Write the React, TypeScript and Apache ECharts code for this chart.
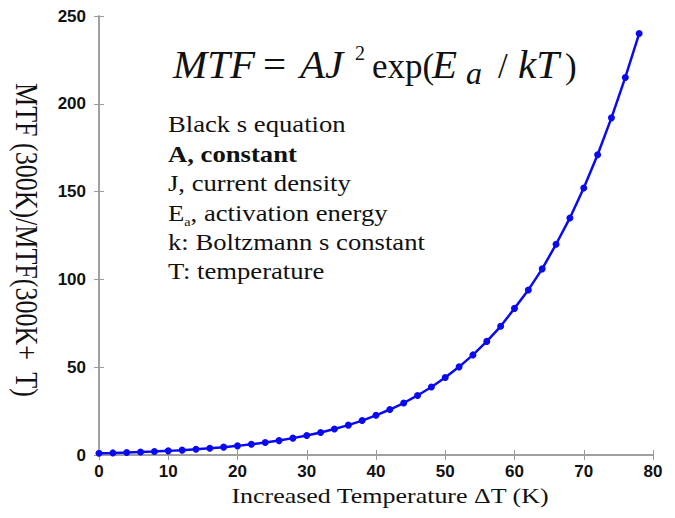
import React, { useEffect, useRef } from "react";
import * as echarts from "echarts";

const deltaT = [0, 2, 4, 6, 8, 10, 12, 14, 16, 18, 20, 22, 24, 26, 28, 30, 32, 34, 36, 38, 40, 42, 44, 46, 48, 50, 52, 54, 56, 58, 60, 62, 64, 66, 68, 70, 72, 74, 76, 78];
const mtfRatio = [1.0, 1.19, 1.42, 1.68, 1.98, 2.35, 2.77, 3.26, 3.82, 4.47, 5.2, 6.1, 7.1, 8.2, 9.6, 11.1, 12.8, 14.8, 17.0, 19.6, 22.6, 25.9, 29.6, 33.9, 38.7, 44.1, 50.2, 57.0, 64.7, 73.3, 83.5, 94, 106, 120, 135, 152, 171, 192, 215, 240];
const xTitle = "Increased Temperature \u0394T (K)";
const yTitle = "MTF (300K)/MTF(300K+  T)";
const noteLines = [
  "{r|Black s equation}",
  "{b|A, constant}",
  "{r|J, current density}",
  "{r|E}{sub|a}{r|, activation energy}",
  "{r|k: Boltzmann s constant}",
  "{r|T: temperature}",
];

const SERIF = "'Liberation Serif', 'Times New Roman', serif";
const SANS = "'Liberation Sans', Arial, sans-serif";
const AXIS_GRAY = "#9a9a9a";
const INK = "#111";
const SX = 1.18;

// one piece of the typeset formula; y is the baseline
function eqPiece(text: string, x: number, baseline: number, size: number, italic: boolean) {
  return {
    type: "text",
    x,
    y: baseline - 0.3375 * size,
    style: {
      text,
      fontSize: size,
      fontFamily: SERIF,
      fontStyle: italic ? "italic" : "normal",
      fill: INK,
      align: "left",
      verticalAlign: "middle",
      textAlign: "left",
      textVerticalAlign: "middle",
    },
  };
}

export default function App() {
  const ref = useRef<HTMLDivElement>(null);
  useEffect(() => {
    if (!ref.current) return;
    const chart = echarts.init(ref.current, null, { renderer: "svg" });
    const axisCommon = {
      type: "value" as const,
      axisLine: { show: true, lineStyle: { color: AXIS_GRAY, width: 1.5 } },
      axisTick: { show: true, inside: true, length: 5, lineStyle: { color: AXIS_GRAY, width: 1 } },
      splitLine: { show: false },
    };
    const labelStyle = { color: INK, fontFamily: SANS, fontWeight: "bold" as const, fontSize: 17 };
    const BL = 78;
    chart.setOption({
      animation: false,
      backgroundColor: "#fff",
      grid: { left: 99, right: 22, top: 16, bottom: 63, containLabel: false },
      xAxis: [
        { ...axisCommon, position: "bottom", min: 0, max: 80, interval: 10, axisLabel: { ...labelStyle, margin: 8 } },
        { ...axisCommon, position: "top", min: 0, max: 80, interval: 10, axisLabel: { show: false } },
      ],
      yAxis: [
        { ...axisCommon, position: "left", min: 0, max: 250, interval: 50, axisLabel: { ...labelStyle, margin: 13 } },
        { ...axisCommon, position: "right", min: 0, max: 250, interval: 50, axisLabel: { show: false } },
      ],
      series: [
        {
          type: "line",
          data: deltaT.map((t, i) => [t, mtfRatio[i]]),
          xAxisIndex: 0,
          yAxisIndex: 0,
          symbol: "circle",
          symbolSize: 7,
          lineStyle: { color: "#0a0af0", width: 2.5 },
          itemStyle: { color: "#0a0af0" },
          z: 3,
        },
      ],
      graphic: [
        eqPiece("MTF", 173, BL, 41, true),
        eqPiece("=", 263, BL, 41, false),
        eqPiece("AJ", 300, BL, 41, true),
        eqPiece("2", 355, 60, 20, false),
        eqPiece("exp(", 372, BL, 35, false),
        eqPiece("E", 432, BL, 41, true),
        eqPiece("a", 466, 84, 32, true),
        eqPiece("/", 498, BL, 35, false),
        eqPiece("kT", 518, BL, 41, true),
        eqPiece(")", 565, BL, 35, false),
        {
          type: "text",
          x: 168,
          y: 110,
          scaleX: SX,
          style: {
            text: noteLines.join("\n"),
            fontSize: 22.6,
            fontFamily: SERIF,
            fill: INK,
            align: "left",
            verticalAlign: "top",
            textAlign: "left",
            textVerticalAlign: "top",
            rich: {
              r: { fontSize: 22.6, fontFamily: SERIF, fill: INK, lineHeight: 29.4 },
              b: { fontSize: 22.6, fontFamily: SERIF, fontWeight: "bold", fill: INK, lineHeight: 29.4 },
              sub: { fontSize: 12, fontFamily: SERIF, fill: INK, lineHeight: 14, verticalAlign: "bottom" },
            },
          },
        },
        {
          type: "text",
          x: 390,
          y: 496,
          scaleX: SX,
          style: {
            text: xTitle,
            fontSize: 22,
            fontFamily: SERIF,
            fill: INK,
            align: "center",
            verticalAlign: "middle",
            textAlign: "center",
            textVerticalAlign: "middle",
          },
        },
        {
          type: "text",
          x: 26,
          y: 240,
          rotation: -Math.PI / 2,
          scaleY: SX,
          style: {
            text: yTitle,
            fontSize: 26,
            fontFamily: SERIF,
            fill: INK,
            align: "center",
            verticalAlign: "middle",
            textAlign: "center",
            textVerticalAlign: "middle",
          },
        },
      ],
    });
    return () => chart.dispose();
  }, []);
  return <div ref={ref} style={{ position: "absolute", left: 0, top: 0, width: 675, height: 518 }} />;
}
